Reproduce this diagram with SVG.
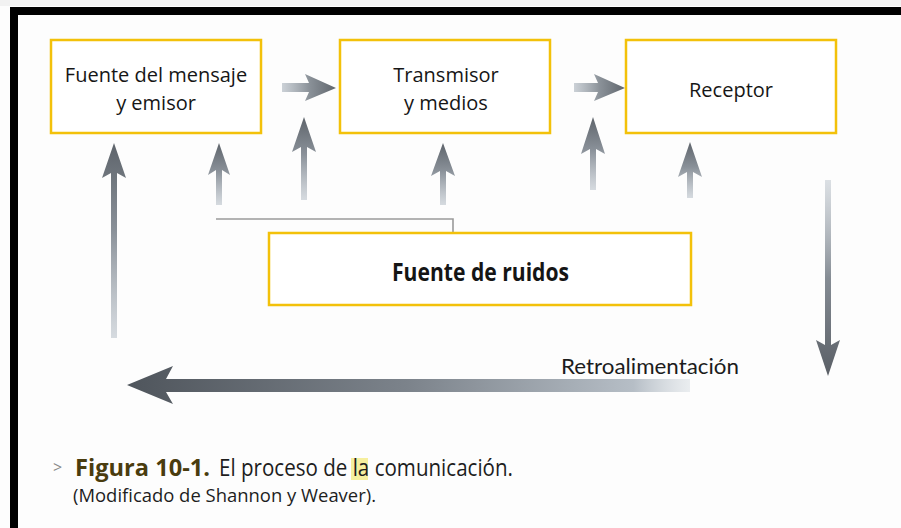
<svg xmlns="http://www.w3.org/2000/svg" width="901" height="528" viewBox="0 0 901 528">
  <defs>
    <linearGradient id="gUp" x1="0" y1="0" x2="0" y2="1">
      <stop offset="0" stop-color="#5e646b"/>
      <stop offset="0.45" stop-color="#8a9199"/>
      <stop offset="1" stop-color="#c5ccd3" stop-opacity="0.7"/>
    </linearGradient>
    <linearGradient id="gDown" x1="0" y1="1" x2="0" y2="0">
      <stop offset="0" stop-color="#5a5f66"/>
      <stop offset="0.5" stop-color="#858c94"/>
      <stop offset="1" stop-color="#c5ccd3" stop-opacity="0.6"/>
    </linearGradient>
    <linearGradient id="gRight" x1="1" y1="0" x2="0" y2="0">
      <stop offset="0" stop-color="#60666d"/>
      <stop offset="0.5" stop-color="#8b9299"/>
      <stop offset="1" stop-color="#bfc6cd" stop-opacity="0.8"/>
    </linearGradient>
    <linearGradient id="gLeft" x1="0" y1="0" x2="1" y2="0">
      <stop offset="0" stop-color="#4f555c"/>
      <stop offset="0.5" stop-color="#7c838b"/>
      <stop offset="0.9" stop-color="#b6bec6"/>
      <stop offset="1" stop-color="#d7dde2" stop-opacity="0.5"/>
    </linearGradient>
  </defs>
  <style>
    .box { fill: #ffffff; stroke: #f3c10a; stroke-width: 2.5; }
    .lbl { font-family: "Open Sans", "Noto Sans", sans-serif; font-size: 20px; fill: #161616; text-anchor: middle; }
    .bold { font-family: "Open Sans", "Noto Sans", sans-serif; font-weight: bold; font-size: 25px; fill: #151515; }
    .fb { font-family: "Lato", "Open Sans", sans-serif; font-size: 21px; fill: #1c1c1c; }
    .cap { font-family: "Open Sans", "Noto Sans", sans-serif; fill: #1e1e1e; }
    .arrU { fill: url(#gUp); }
    .arrD { fill: url(#gDown); }
    .arrR { fill: url(#gRight); }
    .arrL { fill: url(#gLeft); }
  </style>

  <rect x="0" y="0" width="901" height="528" fill="#fdfdfd"/>
  <rect x="0" y="0" width="901" height="6" fill="#f2f2f2"/>
  <rect x="10" y="7" width="891" height="8" fill="#000000"/>
  <rect x="10" y="7" width="8" height="521" fill="#000000"/>

  <g id="connectors">
    <path d="M216,219 H453 V233" fill="none" stroke="#9a9a9a" stroke-width="1.6"/>
    <path class="arrR" d="M336,88 L305,74 L309,83 L282,83 L282,92 L309,92 L305,101 Z"/>
    <path class="arrR" d="M625,88 L594,74 L598,83 L574,83 L574,92 L598,92 L594,101 Z"/>
    <path class="arrU" d="M114,143 L126,178 L117,173 L117,338 L111,338 L111,173 L102,178 Z"/>
    <path class="arrU" d="M219,143 L230,175 L222,170 L222,205 L216,205 L216,170 L208,175 Z"/>
    <path class="arrU" d="M304,117 L316,152 L307,147 L307,200 L301,200 L301,147 L292,152 Z"/>
    <path class="arrU" d="M443,143 L455,176 L446,171 L446,205 L440,205 L440,171 L431,176 Z"/>
    <path class="arrU" d="M593,117 L605,154 L596,149 L596,190 L590,190 L590,149 L581,154 Z"/>
    <path class="arrU" d="M690,142 L702,177 L693,172 L693,198 L687,198 L687,172 L678,177 Z"/>
    <path class="arrD" d="M828,376 L840,340 L831,345 L831,180 L825,180 L825,345 L816,340 Z"/>
    <path class="arrL" d="M127,385 L173,366 L166,379 L690,379 L690,392 L166,392 L173,404 Z"/>
  </g>

  <g id="fuente">
    <rect class="box" x="51" y="40" width="210" height="93"/>
    <text class="lbl" x="156" y="82">Fuente del mensaje</text>
    <text class="lbl" x="156" y="110">y emisor</text>
  </g>
  <g id="transmisor">
    <rect class="box" x="340" y="40" width="210" height="93"/>
    <text class="lbl" x="446" y="82">Transmisor</text>
    <text class="lbl" x="446" y="110">y medios</text>
  </g>
  <g id="receptor">
    <rect class="box" x="626" y="40" width="210" height="93"/>
    <text class="lbl" x="731" y="97">Receptor</text>
  </g>
  <g id="ruidos">
    <rect class="box" x="269" y="233" width="422" height="72"/>
    <text class="bold" x="392" y="281" textLength="177" lengthAdjust="spacingAndGlyphs">Fuente de ruidos</text>
  </g>
  <g id="retro">
    <text class="fb" x="561" y="374" textLength="178" lengthAdjust="spacingAndGlyphs">Retroalimentación</text>
  </g>

  <g id="caption">
    <text class="cap" x="53" y="473" font-size="16" style="fill:#8a8a8a">&gt;</text>
    <text class="cap" x="75" y="476" font-size="24" font-weight="bold" style="fill:#4a3c0e" textLength="135" lengthAdjust="spacingAndGlyphs">Figura 10-1.</text>
    <rect x="351" y="458" width="17" height="22" fill="#f6ef9e"/>
    <text class="cap" x="219" y="476" font-size="23" textLength="294" lengthAdjust="spacingAndGlyphs">El proceso de la comunicación.</text>
    <text class="cap" x="73" y="502" font-size="19" textLength="303" lengthAdjust="spacingAndGlyphs">(Modificado de Shannon y Weaver).</text>
  </g>
</svg>
